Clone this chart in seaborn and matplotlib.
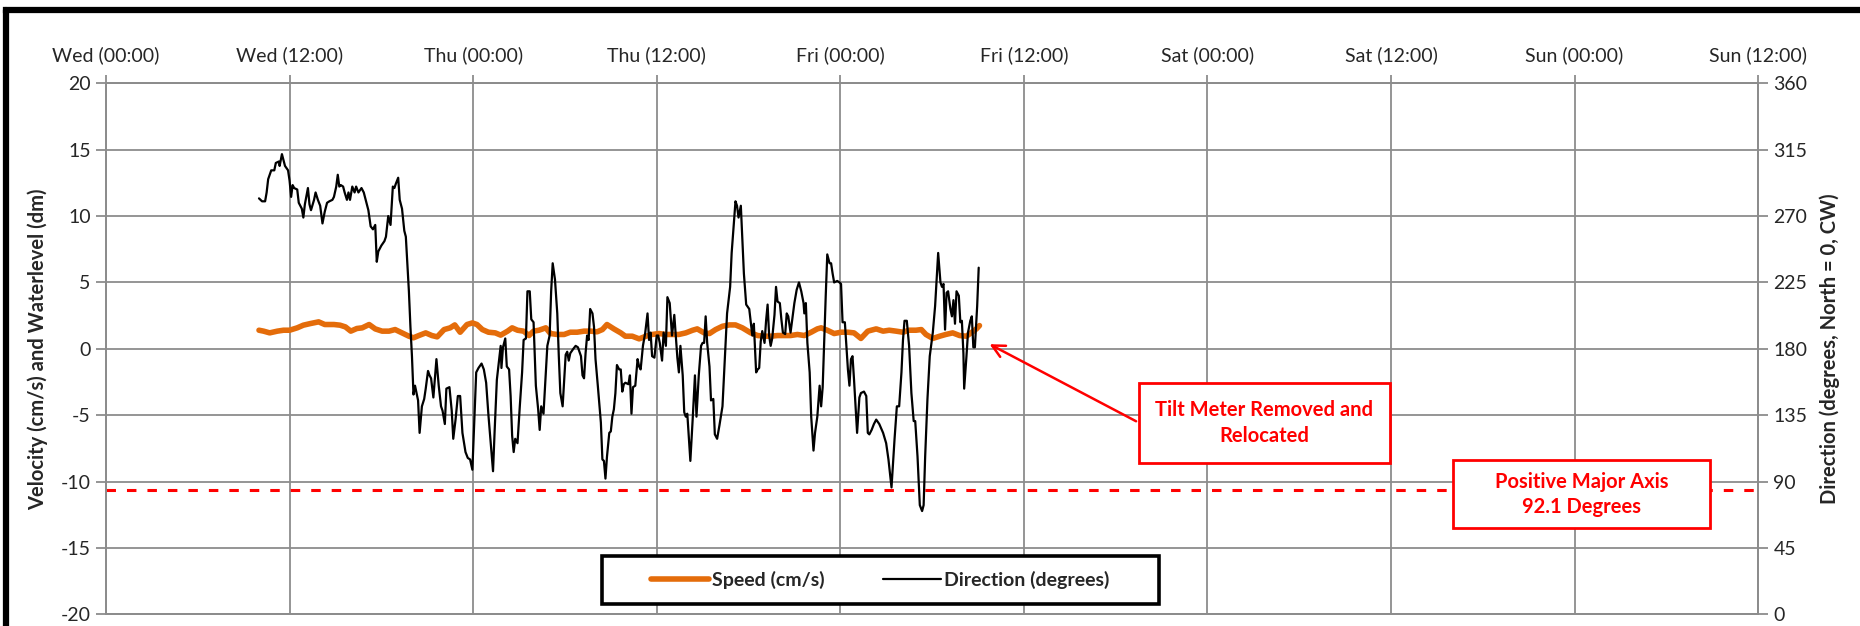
import numpy as np
import pandas as pd
import matplotlib
matplotlib.use("Agg")
import matplotlib.pyplot as plt
import seaborn as sns
from matplotlib.patches import Rectangle
from matplotlib.lines import Line2D

# hours since Wed 00:00
dir_hours = [10.0, 10.2, 10.4, 10.5, 10.6, 10.8, 11.0, 11.1, 11.3, 11.35, 11.5, 11.6, 11.7, 11.9, 12.0,
             12.1, 12.2, 12.3, 12.5, 12.6, 12.8, 12.9, 13.0, 13.2, 13.3, 13.4, 13.6, 13.7, 13.85, 14.0,
             14.15, 14.3, 14.45, 14.6, 14.8, 14.9, 15.05, 15.15, 15.25, 15.35, 15.5, 15.6, 15.75, 15.85, 15.95,
             16.1, 16.25, 16.35, 16.5, 16.7, 16.85, 17.0, 17.15, 17.3, 17.45, 17.6, 17.7, 17.8, 18.0,
             18.2, 18.3, 18.45, 18.6, 18.75, 18.85, 18.95, 19.1, 19.2, 19.35, 19.5, 19.6, 19.8, 19.9,
             20.0, 20.1, 20.2, 20.4, 20.5, 20.65, 20.8, 20.9, 21.05, 21.15, 21.25, 21.4, 21.6, 21.75,
             21.9, 22.0, 22.15, 22.25, 22.45, 22.6, 22.7, 22.85, 23.0, 23.15, 23.3, 23.5, 23.65, 23.8,
             23.95, 24.05, 24.2, 24.35, 24.55, 24.7, 24.85, 25.0, 25.15, 25.3, 25.4, 25.55, 25.8,
             25.85, 25.95, 26.1, 26.2, 26.35, 26.45, 26.55, 26.65, 26.75, 26.9, 27.05, 27.2, 27.3, 27.45,
             27.55, 27.7, 27.8, 27.95, 28.1, 28.25, 28.35, 28.45, 28.6, 28.75, 28.85, 29.0, 29.1, 29.2,
             29.35, 29.5, 29.6, 29.7, 29.85, 29.95, 30.05, 30.15, 30.25, 30.35, 30.55, 30.7, 30.85,
             31.05, 31.15, 31.25, 31.35, 31.45, 31.55, 31.65, 31.8, 31.9, 32.0, 32.15, 32.35, 32.45,
             32.55, 32.65, 32.75, 32.9, 33.0, 33.1, 33.2, 33.3, 33.4, 33.55, 33.65, 33.75, 33.85,
             33.95, 34.15, 34.25, 34.35, 34.45, 34.6, 34.75, 34.85, 34.95, 35.1, 35.25, 35.4, 35.5,
             35.6, 35.7, 35.85, 36.0, 36.1, 36.2, 36.35, 36.45, 36.6, 36.7, 36.85, 37.0, 37.15, 37.25,
             37.35, 37.45, 37.55, 37.7, 37.8, 37.9, 38.0, 38.2, 38.35, 38.5, 38.6, 38.75, 38.9, 39.0,
             39.1, 39.2, 39.3, 39.45, 39.55, 39.7, 39.8, 39.95, 40.1, 40.3, 40.45, 40.6, 40.8, 40.9,
             41.0, 41.15, 41.25, 41.35, 41.5, 41.6, 41.7, 41.85, 42.05, 42.25, 42.35, 42.5, 42.6, 42.7,
             42.8, 42.9, 43.05, 43.15, 43.25, 43.35, 43.45, 43.55, 43.7, 43.8, 43.9, 44.05, 44.15,
             44.25, 44.4, 44.5, 44.6, 44.75, 44.85, 45.0, 45.15, 45.3, 45.45, 45.6, 45.65, 45.75, 45.85,
             46.0, 46.1, 46.25, 46.35, 46.5, 46.65, 46.75, 46.85, 46.95, 47.05, 47.15, 47.3, 47.4, 47.5,
             47.6, 47.8, 47.95, 48.05, 48.15, 48.3, 48.5, 48.6, 48.7, 48.8, 48.9, 49.1, 49.25, 49.35,
             49.55, 49.7, 49.8, 49.9, 50.05, 50.2, 50.35, 50.55, 50.8, 51.0, 51.15, 51.35, 51.55, 51.7,
             51.85, 52.0, 52.1, 52.2, 52.35, 52.5, 52.65, 52.8, 52.9, 53.05, 53.2, 53.35, 53.45, 53.55,
             53.7, 53.85, 54.05, 54.2, 54.3, 54.4, 54.55, 54.65, 54.75, 54.85, 54.95, 55.05, 55.2, 55.3,
             55.4, 55.5, 55.6, 55.75, 55.85, 55.95, 56.05, 56.1, 56.25, 56.35, 56.5, 56.6, 56.7, 56.8,
             56.95, 57.05]
direction = [282, 280, 280, 286, 295, 301, 301, 306, 307, 304, 312, 308, 304, 301, 294,
             283, 291, 289, 288, 279, 275, 269, 278, 289, 278, 274, 281, 286, 281, 277,
             265, 273, 279, 280, 281, 283, 290, 298, 290, 291, 290, 286, 281, 286, 281,
             290, 286, 290, 286, 289, 286, 280, 274, 263, 261, 264, 239, 246, 250,
             253, 256, 270, 264, 290, 289, 292, 296, 281, 275, 260, 256, 219, 195,
             175, 149, 155, 145, 123, 141, 146, 153, 165, 162, 160, 147, 173, 155,
             141, 138, 129, 153, 154, 138, 119, 132, 148, 148, 123, 110, 106, 105,
             98, 125, 164, 167, 170, 166, 157, 135, 116, 97, 123, 159, 182,
             167, 181, 187, 168, 166, 148, 121, 110, 119, 116, 141, 164, 186, 187,
             219, 219, 200, 198, 155, 139, 125, 141, 136, 164, 182, 189, 219, 238,
             227, 204, 175, 150, 141, 159, 176, 178, 172, 177, 180, 182, 181,
             175, 162, 160, 177, 189, 186, 207, 204, 195, 173, 155, 130, 105,
             104, 92, 107, 123, 124, 134, 139, 150, 169, 166, 166, 151, 156,
             157, 156, 162, 136, 154, 155, 173, 168, 166, 182, 191, 204, 186,
             191, 175, 174, 189, 189, 184, 172, 191, 182, 215, 211, 189, 203, 189,
             174, 164, 182, 162, 137, 134, 136, 104, 132, 162, 134, 162, 182, 184,
             184, 202, 184, 168, 145, 146, 122, 119, 128, 141, 173, 204, 222, 245,
             259, 280, 277, 269, 277, 254, 231, 210, 207, 189, 197, 164, 166, 167,
             185, 192, 184, 199, 210, 189, 182, 187, 203, 222, 212, 211, 200,
             191, 190, 204, 202, 191, 199, 211, 220, 225, 219, 211, 204, 211, 184,
             164, 134, 111, 123, 134, 155, 141, 154, 186, 216, 244, 238, 238, 231,
             225, 226, 225, 224, 198, 198, 166, 155, 173, 175, 159, 123, 147, 150,
             151, 148, 123, 122, 125, 129, 132, 129, 123, 116, 105, 86, 119, 141,
             141, 164, 186, 199, 199, 182, 150, 131, 131, 107, 74, 70, 74, 107,
             146, 175, 191, 209, 227, 245, 225, 222, 224, 193, 218, 219, 207, 202,
             213, 197, 219, 216, 198, 199, 177, 153, 175, 191, 199, 202, 181, 181,
             209, 235]

speed_hours = [10.0, 10.3, 10.7, 11.2, 11.6, 12.0, 12.5, 12.9, 13.35, 13.9, 14.3, 14.9, 15.3, 15.65,
               16.0, 16.4, 16.75, 17.2, 17.6, 18.05, 18.5, 18.9, 19.35, 19.8, 20.1, 20.45, 20.9,
               21.3, 21.65, 22.1, 22.5, 22.8, 23.15, 23.6, 23.95, 24.25, 24.6, 25.0, 25.45, 25.8,
               26.25, 26.55, 26.9, 27.3, 27.65, 27.95, 28.3, 28.75, 29.05, 29.5, 29.95, 30.35, 30.8,
               31.25, 31.7, 32.1, 32.45, 32.75, 33.2, 33.65, 33.95, 34.4, 34.85, 35.3, 35.7, 36.15,
               36.6, 37.0, 37.45, 37.9, 38.35, 38.65, 39.1, 39.45, 39.85, 40.3, 40.75, 41.15, 41.6,
               42.15, 42.6, 43.05, 43.45, 43.9, 44.35, 44.75, 45.2, 45.65, 46.1, 46.5, 46.75, 47.15,
               47.6, 48.05, 48.5, 48.9, 49.35, 49.8, 50.35, 50.8, 51.2, 51.65, 52.1, 52.5, 52.95,
               53.3, 53.6, 54.05, 54.5, 54.9, 55.35, 55.8, 56.25, 56.55, 56.9, 57.1]
speed = [1.40, 1.33, 1.20, 1.33, 1.40, 1.40, 1.58, 1.78, 1.90, 2.03, 1.83, 1.83, 1.78, 1.65,
         1.33, 1.53, 1.58, 1.83, 1.50, 1.33, 1.33, 1.45, 1.20, 0.95, 0.83, 1.00, 1.20,
         1.00, 0.90, 1.45, 1.58, 1.80, 1.25, 1.83, 1.95, 1.83, 1.45, 1.25, 1.20, 1.03,
         1.33, 1.58, 1.40, 1.33, 1.00, 1.33, 1.40, 1.58, 1.15, 1.08, 1.08, 1.25, 1.25,
         1.33, 1.33, 1.28, 1.45, 1.83, 1.50, 1.20, 0.95, 0.95, 0.75, 0.95, 1.08, 1.15,
         1.08, 1.08, 1.08, 1.20, 1.40, 1.50, 1.20, 1.15, 1.45, 1.70, 1.80, 1.80, 1.58,
         1.20, 1.00, 0.95, 0.95, 1.00, 1.00, 1.00, 1.08, 1.00, 1.25, 1.50, 1.58, 1.40,
         1.15, 1.25, 1.25, 1.20, 0.78, 1.33, 1.50, 1.33, 1.40, 1.33, 1.25, 1.40, 1.40,
         1.45, 1.08, 0.78, 0.95, 1.08, 1.20, 1.00, 0.95, 1.20, 1.50, 1.75]

tick_hours = [0, 12, 24, 36, 48, 60, 72, 84, 96, 108]
tick_labels = ['Wed (00:00)', 'Wed (12:00)', 'Thu (00:00)', 'Thu (12:00)', 'Fri (00:00)',
               'Fri (12:00)', 'Sat (00:00)', 'Sat (12:00)', 'Sun (00:00)', 'Sun (12:00)']
major_axis_level = -10.65   # dashed line, left-axis units

ORANGE = '#E46C0A'
GRID = '#8C8C8C'
RED = '#FF0000'

sns.set_style("white")
plt.rcParams['font.family'] = ['Lato', 'DejaVu Sans']
plt.rcParams['axes.unicode_minus'] = False

df_speed = pd.DataFrame({'hours': speed_hours, 'speed': speed})
df_dir = pd.DataFrame({'hours': dir_hours, 'direction': direction})

fig = plt.figure(figsize=(18.6, 6.26), dpi=100)
ax = fig.add_axes([0.0570, 0.0187, 0.8882, 0.8482])

sns.lineplot(data=df_speed, x='hours', y='speed', ax=ax, color=ORANGE, linewidth=4.0,
             estimator=None, sort=False, zorder=3)
ax.axhline(major_axis_level, color=RED, linewidth=2.2, linestyle=(0, (3.1, 3.6)), zorder=2)

ax.set_xlim(0, 108)
ax.set_ylim(-20, 20)
ax.set_yticks(np.arange(-20, 21, 5))
ax.set_xticks(tick_hours)
ax.set_xticklabels(tick_labels)
ax.xaxis.tick_top()
ax.grid(True, color=GRID, linewidth=1.3)
ax.set_axisbelow(True)
ax.tick_params(axis='x', which='both', direction='out', length=6, width=1.3, color=GRID,
               labelsize=14, pad=8, top=True, bottom=False)
ax.tick_params(axis='y', direction='out', length=7, width=1.3, color=GRID, labelsize=14, pad=4)
for s in ax.spines.values():
    s.set_color(GRID)
    s.set_linewidth(1.3)
ax.set_xlabel('')
ax.set_ylabel('Velocity (cm/s) and Waterlevel (dm)', fontsize=14.5, fontweight='bold', labelpad=9)

ax2 = ax.twinx()
sns.lineplot(data=df_dir, x='hours', y='direction', ax=ax2, color='black', linewidth=1.6,
             estimator=None, sort=False, zorder=3)
ax2.set_ylim(0, 360)
ax2.set_yticks(np.arange(0, 361, 45))
ax2.tick_params(axis='y', direction='out', length=7, width=1.3, color=GRID, labelsize=14, pad=4)
for s in ax2.spines.values():
    s.set_color(GRID)
    s.set_linewidth(1.3)
ax2.set_ylabel('Direction (degrees, North = 0, CW)', fontsize=14.5, fontweight='bold', labelpad=9)
ax2.set_xlim(0, 108)

# legend with a thick black frame
ax2.add_patch(Rectangle((0.3002, 0.0194), 0.337, 0.0904, transform=ax2.transAxes,
                        facecolor='white', edgecolor='black', linewidth=2.6, zorder=6))
handles = [Line2D([], [], color=ORANGE, linewidth=4.0), Line2D([], [], color='black', linewidth=1.6)]
leg = ax2.legend(handles, ['Speed (cm/s)', 'Direction (degrees)'], loc='center',
                 bbox_to_anchor=(0.3002 + 0.337 / 2, 0.0194 + 0.0904 / 2), bbox_transform=ax2.transAxes,
                 ncol=2, frameon=False, handlelength=3.0, handletextpad=0.15, columnspacing=3.0,
                 prop={'weight': 'bold', 'size': 14})
leg.set_zorder(7)

# annotation boxes
ax2.add_patch(Rectangle((0.6253, 0.285), 0.152, 0.1507, transform=ax2.transAxes,
                        facecolor='white', edgecolor=RED, linewidth=2.0, zorder=6))
ax2.text(0.701, 0.360, 'Tilt Meter Removed and\nRelocated', transform=ax2.transAxes,
         ha='center', va='center', color=RED, fontsize=14.5, fontweight='bold',
         linespacing=1.35, zorder=7)
ax2.add_patch(Rectangle((0.8154, 0.1625), 0.1556, 0.128, transform=ax2.transAxes,
                        facecolor='white', edgecolor=RED, linewidth=2.0, zorder=6))
ax2.text(0.893, 0.2256, 'Positive Major Axis\n92.1 Degrees', transform=ax2.transAxes,
         ha='center', va='center', color=RED, fontsize=14.5, fontweight='bold',
         linespacing=1.3, zorder=7)
ax2.annotate('', xy=(57.6, 184), xytext=(67.5, 130),
             arrowprops=dict(arrowstyle='->,head_length=0.9,head_width=0.45', color=RED, lw=1.8),
             zorder=7)

# outer chart frame (cut off at right and bottom)
fig.add_artist(Line2D([0.0032, 0.0032], [0.0, 0.984], transform=fig.transFigure,
                      color='black', linewidth=4.5))
fig.add_artist(Line2D([0.0032, 1.0], [0.984, 0.984], transform=fig.transFigure,
                      color='black', linewidth=4.5, solid_capstyle='projecting'))

fig.savefig('out.png', dpi=100, facecolor='white')
